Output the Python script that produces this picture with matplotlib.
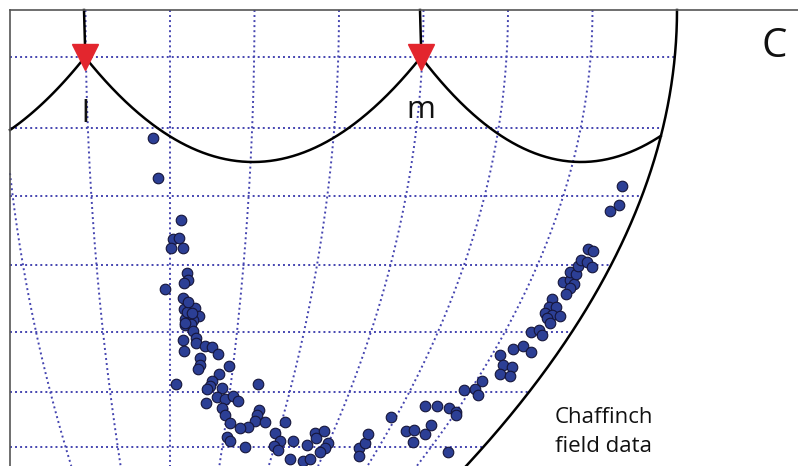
import numpy as np
import matplotlib
matplotlib.use('Agg')
import matplotlib.pyplot as plt

# scatter of field data (image coordinates, y grows downward)
bird_x = [152.7, 158.3, 181, 173.3, 178.5, 171, 182.5, 186.5, 187.5, 184, 165, 182.5,
          184, 195, 190, 199, 185, 193.3, 185, 190.7, 193.3, 183.3, 195.7, 195.7,
          205, 211.5, 218, 183.5, 200, 200, 198.3, 228.5, 218.5, 211.5, 210, 206.7,
          221.5, 175.5, 257.5, 217, 225, 233.3, 238, 206, 221.5, 225, 229.5, 258.5,
          256.5, 254.5, 265, 248, 240, 285.3, 227, 230, 245, 275, 280, 274, 278.3,
          292.7, 307, 290, 302.5, 310, 315, 324, 315.5, 328.3, 325, 320, 358.5,
          359.3, 365, 367.7, 390.5, 406.3, 414.3, 412.5, 425, 431, 425, 436.7,
          449.3, 455.7, 455.5, 448.3, 464, 475, 478, 481.7, 499.5, 503.3, 511.7,
          500, 510.3, 513.3, 523.3, 530.5, 531.2, 539, 542, 551.7, 549, 556, 545,
          552, 559.5, 547, 550, 563.3, 570.3, 574, 570, 565.5, 570, 576.3, 578.3,
          580.8, 587, 591.7, 588.3, 593.3, 610, 619.3, 622,
          186.7, 188, 185, 191.7]
bird_y = [138, 177.5, 219.5, 238.5, 237.5, 247.5, 247.5, 272.7, 279.5, 282.5, 289, 298,
          308.5, 307.5, 313.5, 316, 318.5, 319.5, 325, 324, 330.5, 340, 338.3, 343.3,
          345.5, 346.7, 353.5, 350.7, 357.5, 365, 369, 366, 374, 381, 385.5, 389.3,
          388.3, 384.3, 384.3, 396.7, 399, 396, 400.7, 403.3, 408.3, 415, 422.7, 410,
          414.5, 421, 422, 426.7, 428.3, 422.3, 437.3, 441, 446.5, 433, 440.7, 445.5, 450,
          440.7, 445.3, 458.5, 461.3, 459.3, 433, 430.5, 438.3, 443, 447.5, 452, 448.3,
          456, 443, 433.7, 416.7, 430.5, 429.5, 442, 433.7, 424.7, 406, 406,
          407.7, 411.5, 414.8, 451.7, 390, 389, 394.5, 381, 354.5, 364.7, 367.2,
          374, 376, 348.7, 345.5, 352, 331.5, 330, 335, 299, 307, 307, 313,
          314.5, 316, 317.5, 322.7, 281.7, 279.7, 284, 288.3, 293.7, 271.7, 273.7, 266,
          260.3, 261.7, 267.3, 248.7, 250.8, 211, 204.5, 186,
          312, 302, 323.3, 313.3]

# receivers
rec_x = [85, 421]
rec_labels = ['l', 'm']

# grid: horizontal rows and meridian positions at the top edge
row_y = [57, 128, 196, 265, 332, 392, 447]
meridian_top = [1, 85.5, 170, 254.5, 339, 423.5, 508, 592.5]
edge_top = 677

XC, Y0, A = 170, 10, 2.0e-6
W, H = 798, 466


def meridian(top, y):
    return XC + (top - XC) * (1 - A * (y - Y0) ** 2)


def arc(x, cusp, half):
    xm = cusp + half
    return 162 - 105 * ((x - xm) / half) ** 2


fig = plt.figure(figsize=(W / 100, H / 100), dpi=100)
ax = fig.add_axes([0, 0, 1, 1])
ax.set_xlim(0, W)
ax.set_ylim(H, 0)
ax.axis('off')

dot = dict(color='#4444b0', lw=1.4, linestyle=(0, (1, 1.6)), zorder=1)

yy = np.linspace(Y0, H, 300)
for top in meridian_top:
    xx = meridian(top, yy)
    m = xx >= 10
    ax.plot(xx[m], yy[m], **dot)

for y in row_y:
    ax.plot([10, meridian(edge_top, y)], [y, y], **dot)

# boundary meridian
ax.plot(meridian(edge_top, yy), yy, color='black', lw=1.8, zorder=3)

# arcs between receivers
x1 = np.linspace(10, 85, 100)
ax.plot(x1, arc(x1, 85 - 2 * 167.5, 167.5), color='black', lw=1.8, zorder=3)
x2 = np.linspace(85, 421, 300)
ax.plot(x2, arc(x2, 85, 168), color='black', lw=1.8, zorder=3)
x3 = np.linspace(421, 700, 300)
y3 = arc(x3, 421, 160)
m3 = x3 <= meridian(edge_top, y3)
ax.plot(x3[m3], y3[m3], color='black', lw=1.8, zorder=3)

# receiver posts and markers
for rx, lab in zip(rec_x, rec_labels):
    ax.plot([meridian(rx, 10) - 1, rx], [10, 45], color='black', lw=1.8, zorder=3)
    ax.plot(rx, 57, marker='v', markersize=19, color='#e3262e', mec='#e3262e', zorder=4)

ax.text(85, 122, 'l', fontsize=22.5, family='Open Sans', ha='center', va='baseline', color='#111111')
ax.text(421, 118, 'm', fontsize=22.5, family='Open Sans', ha='center', va='baseline', color='#111111')

ax.scatter(bird_x, bird_y, s=58, c='#2c3f95', edgecolors='#15153a', linewidths=0.8, zorder=5)

# frame
ax.plot([9.5, W], [10, 10], color='#555555', lw=1.2, zorder=6)
ax.plot([9.5, 9.5], [10, H], color='#555555', lw=1.2, zorder=6)

ax.text(774, 47, 'C', fontsize=29, family='Open Sans', ha='center', va='center', color='#111111')
ax.text(555, 423, 'Chaffinch', fontsize=16, family='Open Sans', ha='left', va='baseline', color='#111111')
ax.text(555, 452, 'field data', fontsize=16, family='Open Sans', ha='left', va='baseline', color='#111111')

fig.savefig('out.png', dpi=100)
